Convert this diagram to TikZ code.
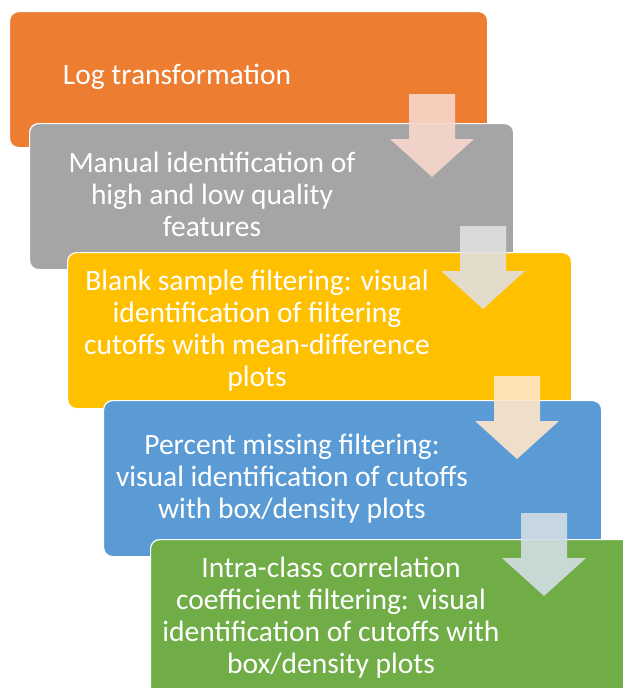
\documentclass[tikz,border=0pt]{standalone}
\usepackage{fontspec}
\setmainfont{Carlito}
\usepackage{tikz}

\definecolor{logorange}{HTML}{ED7D31}
\definecolor{manualgray}{HTML}{A5A5A5}
\definecolor{blankyellow}{HTML}{FFC000}
\definecolor{missingblue}{HTML}{5B9BD5}
\definecolor{iccgreen}{HTML}{70AD47}
\definecolor{arrowone}{HTML}{F8D8CC}
\definecolor{arrowtwo}{HTML}{E0E0E0}
\definecolor{arrowthree}{HTML}{FEE6C9}
\definecolor{arrowfour}{HTML}{D2DEE5}

\tikzset{
  stagebox/.style={draw=white,line width=1.2pt,rounded corners=9pt,anchor=north west,inner sep=0pt},
  stagetext/.style={text=white,align=center,font=\fontsize{29.5}{32}\selectfont},
  flowarrow/.style={fill opacity=0.9}
}

% block arrow: centre x, top y, colour
\newcommand{\blockarrow}[3]{%
  \fill[#3,flowarrow] (#1-23,#2) -- (#1+23,#2) -- (#1+23,#2+45) -- (#1+42,#2+45)
    -- (#1,#2+83) -- (#1-42,#2+45) -- (#1-23,#2+45) -- cycle;}

\begin{document}
\begin{tikzpicture}[x=1pt,y=-1pt]
  \useasboundingbox (0,0) rectangle (623,688);
  \node[stagebox,fill=logorange,minimum width=478pt,minimum height=136pt] (log) at (9,11) {};
  \node[stagebox,fill=manualgray,minimum width=484pt,minimum height=146pt] (manual) at (29,123) {};
  \node[stagebox,fill=blankyellow,minimum width=504pt,minimum height=156pt] (blank) at (67,252) {};
  \node[stagebox,fill=missingblue,minimum width=498pt,minimum height=156pt] (missing) at (103,400) {};
  \node[stagebox,fill=iccgreen,minimum width=490pt,minimum height=170pt] (icc) at (150,539) {};

  \node[stagetext] (logtext) at (177,77) {Log transformation};
  \node[stagetext] (manualtext) at (212,194) {Manual identification of\\high and low quality\\features};
  \node[stagetext] (blanktext) at (257,331) {Blank sample filtering: visual\\identification of filtering\\cutoffs with mean-difference\\plots};
  \node[stagetext] (missingtext) at (292,479) {Percent missing filtering:\\visual identification of cutoffs\\with box/density plots};
  \node[stagetext] (icctext) at (331,618) {Intra-class correlation\\coefficient filtering: visual\\identification of cutoffs with\\box/density plots};

  \blockarrow{432}{94}{arrowone}
  \blockarrow{483}{226}{arrowtwo}
  \blockarrow{517}{376}{arrowthree}
  \blockarrow{544}{513}{arrowfour}
\end{tikzpicture}
\end{document}
